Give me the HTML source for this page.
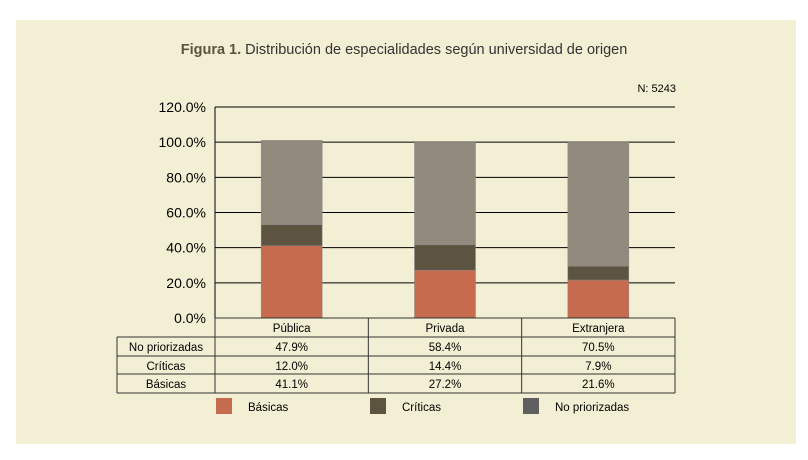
<!DOCTYPE html>
<html><head><meta charset="utf-8"><style>
body{margin:0;background:#fff;font-family:"Liberation Sans",sans-serif}
svg{display:block}
</style></head><body>
<svg width="808" height="460" id="c">
<rect x="16" y="20" width="780" height="424" fill="#f3efd4"/>
<text x="404" y="54" text-anchor="middle" font-size="14.5" fill="#333"><tspan font-weight="bold" fill="#5c5440">Figura 1.</tspan> Distribución de especialidades según universidad de origen</text>
<text x="676" y="92" text-anchor="end" font-size="11" fill="#000">N: 5243</text>
<g id="grid"></g><g id="bars"></g><g id="tbl"></g><g id="leg"></g>
</svg>
<script>
const categories=["Pública","Privada","Extranjera"];
const seriesNames=["No priorizadas","Críticas","Básicas"];
const noPriorizadas=[47.9,58.4,70.5];
const criticas=[12.0,14.4,7.9];
const basicas=[41.1,27.2,21.6];
const ticks=[0,20,40,60,80,100,120];
const colors={b:"#c66b4d",c:"#5c5440",n:"#918a7d",ln:"#5f5f5f"};
const NS="http://www.w3.org/2000/svg";
const X0=215,X1=675,Y0=318,Ytop=107;
const y=v=>Y0-(v/120)*(Y0-Ytop);
const cw=(X1-X0)/categories.length;
function mk(p,t,a,txt){const e=document.createElementNS(NS,t);for(const k in a)e.setAttribute(k,a[k]);if(txt!==undefined)e.textContent=txt;document.getElementById(p).appendChild(e);return e;}
ticks.forEach(t=>{
 if(t>0){const l=mk("grid","line",{x1:X0,x2:X1,y1:y(t),y2:y(t),stroke:"#000","stroke-width":1});
 
 }
 const tx=mk("grid","text",{x:206,y:y(t)+5,"text-anchor":"end","font-size":14,fill:"#000"},t.toFixed(1)+"%");
 
 
});
const ax=mk("grid","line",{x1:X0,x2:X0,y1:Ytop,y2:Y0,stroke:"#000"});


categories.forEach((c,i)=>{
 const cx=X0+cw*(i+0.5),bw=61;
 let acc=0;
 [[basicas[i],colors.b,'bar-basicas'],[criticas[i],colors.c,'bar-criticas'],[noPriorizadas[i],colors.n,'bar-no-priorizadas']].forEach(([v,col,n])=>{
  const r=mk("bars","rect",{x:cx-bw/2,y:y(acc+v),width:bw,height:y(acc)-y(acc+v),fill:col,stroke:"#888","stroke-width":0.5});
  
  
  acc+=v;
 });
});
// table
const rows=[318,337,356,374,393];
const L=117;
const tb=mk("tbl","g",{});


function ln(x1,y1,x2,y2){const l=mk("tbl","line",{x1,y1,x2,y2,stroke:"#333","stroke-width":1});}
ln(X0,Y0,X1,Y0);
for(let r=1;r<rows.length;r++)ln(L,rows[r],X1,rows[r]);
ln(L,rows[1],L,rows[4]);
for(let i=0;i<=categories.length;i++)ln(X0+cw*i,Y0,X0+cw*i,rows[4]);
categories.forEach((c,i)=>{const t=mk("tbl","text",{x:X0+cw*(i+0.5),y:rows[0]+14,"text-anchor":"middle","font-size":11.5},c);});
[noPriorizadas,criticas,basicas].forEach((arr,r)=>{
 const t=mk("tbl","text",{x:(L+X0)/2,y:rows[r+1]+14,"text-anchor":"middle","font-size":11.5},seriesNames[r]);
 
 
 arr.forEach((v,i)=>{const c=mk("tbl","text",{x:X0+cw*(i+0.5),y:rows[r+1]+14,"text-anchor":"middle","font-size":11.5},v.toFixed(1)+"%");
 
 });
});
[["Básicas",colors.b,216],["Críticas",colors.c,370],["No priorizadas",colors.ln,523]].forEach(([n,col,x])=>{
 const r=mk("leg","rect",{x:x,y:398,width:16,height:16,fill:col});
 
 
 const t=mk("leg","text",{x:x+32,y:411,"font-size":11.5},n);
 
 
});
</script>
</body></html>
